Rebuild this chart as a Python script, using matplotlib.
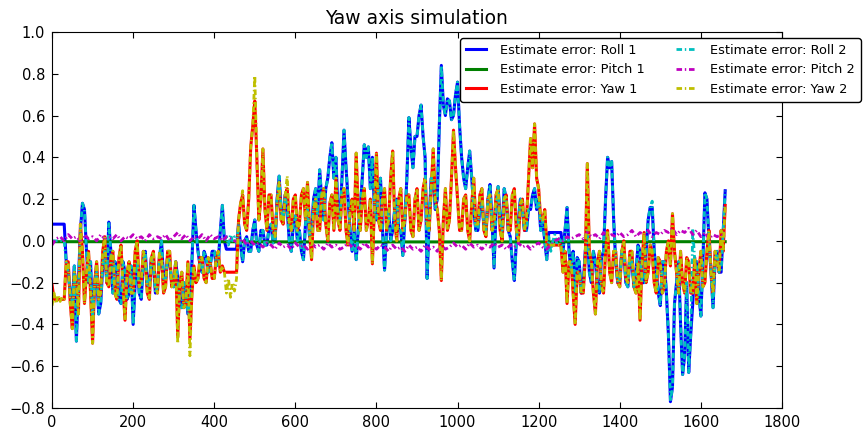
import matplotlib.pyplot as plt
import numpy as np

plt.rcParams['font.family'] = 'DejaVu Sans'
plt.rcParams['lines.scale_dashes'] = False

# sample index, every 5th step of the run
t = np.arange(0, 1665, 5)
t10 = np.arange(0, 1670, 10)

roll1 = [0.08, 0.08, 0.08, 0.08, 0.08, 0.08, 0.08, -0.10, -0.15, -0.25,
         -0.30, -0.12, -0.48, -0.20, 0.05, 0.18, 0.15, -0.05, -0.20, -0.10,
         -0.38, -0.20, -0.15, -0.35, -0.30, -0.12, -0.05, -0.20, 0.09, -0.05,
         -0.25, -0.10, -0.12, -0.28, -0.30, -0.10, -0.15, -0.28, -0.25, -0.12,
         -0.40, -0.20, -0.10, -0.25, -0.28, -0.10, -0.05, -0.22, -0.20, -0.08,
         -0.12, -0.25, -0.22, -0.08, 0.00, -0.18, -0.18, -0.08, -0.10, -0.20,
         -0.22, -0.10, -0.18, -0.30, -0.32, -0.20, -0.25, -0.35, -0.30, -0.10,
         0.17, 0.05, -0.05, -0.12, -0.15, -0.05, -0.08, -0.15, -0.12, -0.05,
         -0.05, -0.12, -0.10, 0.05, 0.17, 0.00, -0.04, -0.04, -0.04, -0.04,
         -0.04, -0.04, 0.08, -0.02, -0.10, 0.00, 0.02, -0.05, -0.05, 0.05,
         0.10, -0.02, -0.05, 0.05, 0.05, -0.02, -0.02, 0.06, 0.08, -0.01,
         0.00, 0.20, 0.31, 0.15, 0.10, 0.22, 0.15, 0.00, -0.05, 0.08,
         0.12, 0.00, 0.05, -0.05, -0.09, 0.08, 0.15, 0.02, 0.05, 0.20,
         0.25, 0.12, 0.34, 0.20, 0.10, 0.25, 0.30, 0.40, 0.47, 0.30,
         0.40, 0.15, 0.10, 0.30, 0.53, 0.35, 0.20, 0.05, -0.05, 0.05,
         -0.09, 0.05, 0.15, 0.30, 0.46, 0.40, 0.45, 0.25, 0.40, 0.15,
         0.10, 0.25, 0.30, 0.05, -0.14, 0.05, 0.15, 0.00, 0.05, 0.15,
         0.20, 0.05, 0.05, -0.07, 0.10, 0.30, 0.59, 0.45, 0.35, 0.50,
         0.50, 0.60, 0.65, 0.50, 0.40, -0.18, 0.10, 0.30, 0.30, 0.15,
         0.20, 0.55, 0.84, 0.65, 0.60, 0.68, 0.67, 0.58, 0.60, 0.70,
         0.76, 0.55, 0.40, 0.30, 0.25, 0.35, 0.43, 0.30, 0.15, 0.05,
         0.05, 0.15, 0.18, 0.08, 0.05, 0.20, 0.27, 0.10, -0.13, 0.15,
         0.26, 0.10, 0.05, 0.25, 0.20, 0.05, 0.02, -0.10, -0.19, 0.00,
         0.10, 0.20, 0.15, 0.05, 0.05, 0.15, 0.15, 0.22, 0.25, 0.15,
         0.20, 0.05, 0.10, 0.00, -0.09, 0.04, 0.04, 0.04, 0.04, 0.04,
         0.04, 0.04, -0.05, 0.05, 0.16, -0.05, -0.15, -0.05, -0.25, -0.08,
         -0.10, -0.25, -0.20, -0.05, 0.05, -0.15, -0.20, -0.05, -0.10, -0.22,
         -0.25, -0.08, -0.05, 0.20, 0.40, 0.35, 0.38, 0.10, -0.10, -0.20,
         -0.18, -0.05, -0.05, -0.20, -0.22, -0.08, -0.10, -0.22, -0.15, -0.02,
         -0.05, -0.20, -0.20, -0.05, 0.10, 0.16, 0.16, -0.05, -0.15, -0.25,
         -0.31, -0.10, -0.10, -0.25, -0.45, -0.77, -0.70, -0.30, -0.20, -0.10,
         -0.40, -0.64, -0.55, -0.20, -0.63, -0.45, -0.30, -0.10, -0.10, -0.25,
         -0.36, -0.10, 0.23, 0.20, 0.00, -0.15, -0.32, -0.10, -0.05, -0.15,
         -0.15, 0.05, 0.24]

yaw1 = [-0.21, -0.28, -0.28, -0.28, -0.28, -0.28, -0.28, -0.10, -0.10, -0.30,
        -0.42, -0.15, -0.20, -0.35, 0.08, -0.05, -0.30, -0.15, -0.05, -0.25,
        -0.49, -0.20, -0.10, -0.28, -0.25, -0.05, 0.02, -0.20, -0.22, -0.08,
        -0.05, -0.25, -0.28, -0.08, -0.02, -0.22, -0.38, -0.15, -0.10, -0.25,
        -0.25, -0.05, 0.00, -0.22, -0.20, -0.05, -0.10, -0.25, -0.28, -0.08,
        -0.05, -0.22, -0.25, -0.06, -0.08, -0.25, -0.22, -0.05, -0.05, -0.22,
        -0.20, -0.10, -0.46, -0.20, -0.15, -0.32, -0.30, -0.10, -0.47, -0.25,
        -0.12, -0.20, -0.18, -0.08, -0.08, -0.18, -0.20, -0.08, -0.10, -0.18,
        -0.18, -0.08, -0.05, -0.15, -0.12, -0.15, -0.15, -0.15, -0.15, -0.15,
        -0.15, -0.15, 0.10, 0.18, 0.22, 0.08, 0.05, 0.20, 0.45, 0.55,
        0.67, 0.40, 0.10, 0.20, 0.44, 0.15, 0.05, 0.22, 0.22, 0.05,
        0.02, 0.18, 0.28, 0.10, 0.08, 0.22, 0.25, 0.08, 0.05, 0.20,
        0.22, 0.05, 0.08, 0.22, 0.25, 0.10, 0.28, 0.05, -0.09, 0.15,
        0.20, 0.05, 0.05, 0.22, 0.25, 0.08, 0.00, 0.18, 0.22, 0.05,
        0.30, 0.10, 0.05, 0.22, 0.25, 0.05, -0.02, 0.15, 0.20, 0.05,
        0.42, 0.15, 0.05, 0.20, 0.25, 0.05, 0.10, 0.20, -0.11, 0.15,
        0.42, 0.10, 0.05, 0.20, 0.25, 0.05, 0.10, 0.30, 0.43, 0.10,
        0.00, 0.20, 0.25, 0.05, 0.10, 0.22, 0.22, 0.05, 0.02, 0.20,
        0.25, 0.05, 0.10, 0.25, 0.30, 0.08, 0.05, 0.25, 0.44, 0.20,
        0.15, 0.05, -0.19, 0.10, 0.25, 0.05, 0.10, 0.30, 0.53, 0.35,
        0.20, 0.05, 0.05, 0.20, 0.22, 0.05, 0.00, 0.18, 0.30, 0.08,
        0.08, 0.22, 0.25, 0.05, 0.02, 0.20, 0.22, 0.05, 0.08, 0.22,
        0.25, 0.05, 0.00, 0.20, 0.22, 0.05, 0.05, 0.22, 0.25, 0.05,
        0.00, 0.18, 0.20, 0.05, 0.10, 0.30, 0.49, 0.35, 0.56, 0.30,
        0.25, 0.10, 0.10, 0.15, -0.02, -0.02, -0.02, -0.02, -0.02, -0.02,
        -0.02, -0.02, -0.15, -0.05, -0.30, -0.10, -0.10, -0.25, -0.40, -0.15,
        -0.15, -0.25, -0.25, -0.08, 0.37, -0.05, -0.10, -0.25, -0.35, -0.10,
        -0.05, -0.22, -0.25, -0.05, 0.05, -0.15, -0.20, -0.05, -0.05, -0.20,
        -0.22, -0.05, 0.00, -0.18, -0.20, -0.05, -0.05, -0.22, -0.25, -0.10,
        -0.38, -0.10, 0.04, -0.20, -0.15, -0.02, -0.05, -0.20, -0.25, -0.08,
        -0.10, -0.25, -0.22, -0.05, 0.00, -0.12, 0.13, -0.05, -0.15, -0.25,
        -0.05, -0.20, -0.25, -0.08, -0.10, -0.25, -0.25, -0.08, -0.30, -0.15,
        -0.05, -0.22, -0.20, -0.05, 0.05, -0.15, -0.25, -0.05, -0.10, -0.15,
        0.05, -0.05, 0.17]

# the second estimator follows the first one except at these samples
roll2_diff = {0: 0.00, 5: 0.00, 10: 0.00, 15: 0.00, 20: 0.00, 25: 0.00, 30: 0.00,
              430: 0.02, 435: -0.02, 440: 0.03, 445: 0.00, 450: 0.02, 455: -0.01,
              1225: 0.02, 1230: -0.05, 1235: 0.00, 1240: 0.03, 1245: -0.02,
              1250: 0.01, 1255: 0.00, 1480: 0.19, 1580: 0.06}
yaw2_diff = {0: -0.31, 5: -0.25, 10: -0.30, 15: -0.26, 20: -0.29, 25: -0.27,
             30: -0.28, 310: -0.49, 340: -0.55, 430: -0.25, 435: -0.18,
             440: -0.27, 445: -0.20, 450: -0.24, 455: -0.18, 470: 0.24,
             500: 0.79, 580: 0.31}

roll2 = list(roll1)
for k, v in roll2_diff.items():
    roll2[k // 5] = v
yaw2 = list(yaw1)
for k, v in yaw2_diff.items():
    yaw2[k // 5] = v

pitch2 = [-0.02, 0.01, 0.02, 0.00, 0.03, 0.01, 0.02, 0.00, 0.03, 0.01,
          0.02, 0.00, 0.03, 0.01, 0.02, 0.01, 0.03, 0.00, 0.02, 0.01,
          0.03, 0.01, 0.02, 0.00, 0.03, 0.01, 0.02, 0.01, 0.03, 0.00,
          0.02, 0.04, 0.01, 0.03, 0.00, 0.02, 0.01, 0.03, 0.00, 0.03,
          0.01, 0.02, 0.00, 0.02, 0.01, 0.00, -0.01, 0.01, -0.02, 0.00,
          -0.02, -0.01, -0.03, -0.01, -0.02, -0.04, -0.01, -0.03, -0.02, -0.04,
          -0.01, -0.03, -0.02, -0.04, -0.01, -0.03, -0.02, -0.04, -0.01, -0.03,
          -0.02, -0.04, -0.03, -0.01, -0.03, -0.02, -0.04, -0.01, -0.03, -0.02,
          -0.04, -0.02, -0.03, -0.05, -0.02, -0.04, -0.03, -0.05, -0.02, -0.04,
          -0.03, -0.05, -0.02, -0.04, -0.03, -0.05, -0.02, -0.04, -0.03, -0.01,
          -0.03, -0.02, -0.04, -0.01, -0.03, -0.02, -0.04, -0.02, -0.03, -0.01,
          -0.03, -0.02, -0.04, -0.02, -0.03, -0.01, -0.03, -0.02, -0.04, -0.02,
          -0.01, -0.03, -0.04, -0.02, 0.00, 0.01, 0.00, 0.02, 0.01, 0.02,
          0.03, 0.01, 0.04, 0.02, 0.03, 0.01, 0.04, 0.02, 0.03, 0.02,
          0.04, 0.02, 0.03, 0.05, 0.02, 0.04, 0.03, 0.05, 0.02, 0.04,
          0.03, 0.05, 0.04, 0.06, 0.03, 0.05, 0.04, 0.06, 0.03, 0.05,
          0.02, 0.04, 0.01, 0.03, 0.02, 0.03, 0.02]

# pitch from the first estimator stays flat, so a coarse grid is enough
t_pitch1 = [0, 200, 400, 600, 800, 1000, 1200, 1400, 1600, 1660]
pitch1 = [-0.004, -0.004, -0.004, -0.005, -0.005, -0.005, -0.005, -0.004, -0.004, -0.004]

fig = plt.figure(figsize=(8.63, 4.32), dpi=100)
ax = fig.add_axes([0.0603, 0.0556, 0.8458, 0.8704])

dashdot = (0, (4, 2, 1, 2))
ax.plot(t, roll1, color='#0000ff', lw=2.2, label='Estimate error: Roll 1')
ax.plot(t_pitch1, pitch1, color='#008000', lw=2.2, label='Estimate error: Pitch 1')
ax.plot(t, yaw1, color='#ff0000', lw=2.2, label='Estimate error: Yaw 1')
ax.plot(t, roll2, color='#00bfbf', lw=2, ls=dashdot, label='Estimate error: Roll 2')
ax.plot(t10, pitch2, color='#bf00bf', lw=2, ls=dashdot, label='Estimate error: Pitch 2')
ax.plot(t, yaw2, color='#bfbf00', lw=2, ls=dashdot, label='Estimate error: Yaw 2')

ax.set_xlim(0, 1800)
ax.set_ylim(-0.8, 1.0)
ax.set_xticks([0, 200, 400, 600, 800, 1000, 1200, 1400, 1600, 1800])
ax.set_yticks([-0.8, -0.6, -0.4, -0.2, 0.0, 0.2, 0.4, 0.6, 0.8, 1.0])
ax.tick_params(direction='in', top=True, right=True, length=4.5, labelsize=10.5, pad=5)
ax.set_title('Yaw axis simulation', fontsize=13.5, pad=6)

leg = ax.legend(loc='upper right', bbox_to_anchor=(1.108, 0.984), borderaxespad=0,
                ncol=2, fontsize=9.3, handlelength=1.55, handletextpad=1.1,
                columnspacing=2.4, labelspacing=0.5, borderpad=0.45,
                fancybox=True, framealpha=1)
leg.get_frame().set_edgecolor('black')

fig.savefig('out.png')
